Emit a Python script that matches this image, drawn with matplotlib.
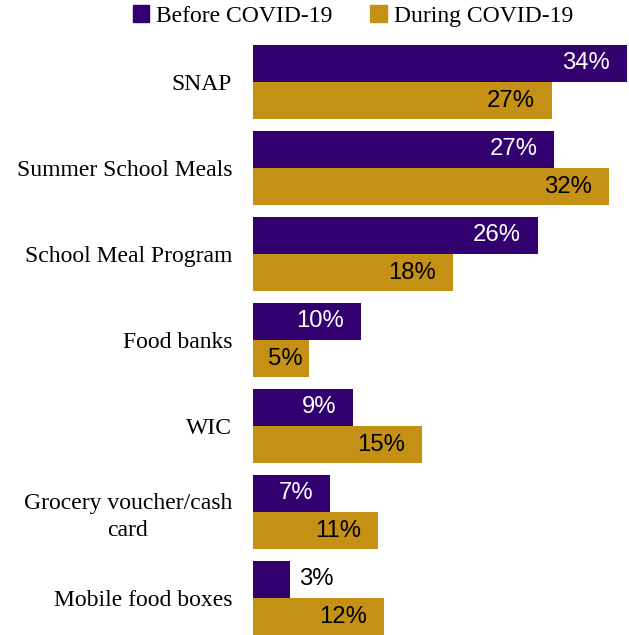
import matplotlib
matplotlib.use("Agg")
import matplotlib.pyplot as plt
from matplotlib.patches import Patch
import numpy as np

categories = ["SNAP", "Summer School Meals", "School Meal Program", "Food banks",
              "WIC", "Grocery voucher/cash\ncard", "Mobile food boxes"]
before = [34.0, 27.4, 25.9, 9.8, 9.1, 7.0, 3.4]
during = [27.2, 32.4, 18.2, 5.1, 15.4, 11.4, 11.9]
series_names = ["Before COVID-19", "During COVID-19"]

purple = "#330070"
gold = "#C59114"
serif = ["Liberation Serif", "DejaVu Serif"]
sans = ["Liberation Sans", "DejaVu Sans"]

W, H = 629, 635
fig = plt.figure(figsize=(W / 100, H / 100), dpi=100)
ax_left, ax_top, ax_bot = 253, 39, 635
ax = fig.add_axes([ax_left / W, 1 - ax_bot / H, (W - ax_left) / W, (ax_bot - ax_top) / H])

y = np.arange(len(categories))
h = 0.436
ax.barh(y - h / 2, before, height=h, color=purple)
ax.barh(y + h / 2, during, height=h, color=gold)

ax.set_xlim(0, (W - ax_left) / 11.0)
ax.set_ylim(-0.5 + (ax_bot - ax_top) / 86.0, -0.5)

fs = 17.2
for i, (b, d) in enumerate(zip(before, during)):
    if b >= 5:
        ax.annotate(f"{b:.0f}%", (b, i - h / 2), xytext=(-12.3, 0), textcoords="offset points",
                    ha="right", va="center", color="white", fontsize=fs, family=sans)
    else:
        ax.annotate(f"{b:.0f}%", (b, i - h / 2), xytext=(6.5, 0), textcoords="offset points",
                    ha="left", va="center", color="black", fontsize=fs, family=sans)
    off = -12.3 if d >= 8 else -5
    ax.annotate(f"{d:.0f}%", (d, i + h / 2), xytext=(off, 0), textcoords="offset points",
                ha="right", va="center", color="black", fontsize=fs, family=sans)

ax.set_yticks(y)
ax.set_yticklabels(categories, family=serif, fontsize=17, multialignment="center",
                   linespacing=1.35)
ax.tick_params(axis="y", length=0, pad=15)
ax.set_xticks([])
for s in ax.spines.values():
    s.set_visible(False)

handles = [Patch(color=purple), Patch(color=gold)]
fig.legend(handles, series_names, loc="center", bbox_to_anchor=(353 / W, 1 - 16 / H),
           ncol=2, frameon=False, prop={"family": serif, "size": 17},
           handlelength=0.7, handleheight=0.7, handletextpad=0.3, columnspacing=1.6)

fig.savefig("out.png", dpi=100)
